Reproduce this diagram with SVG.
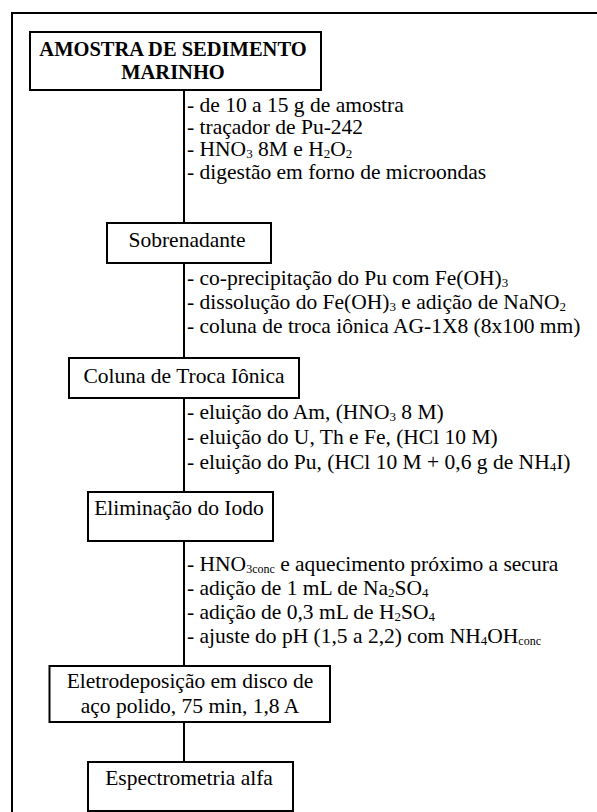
<svg xmlns="http://www.w3.org/2000/svg" width="597" height="812" viewBox="0 0 597 812">
<style>
  .frame { stroke: #000; stroke-width: 2; fill: none; }
  .box { fill: #fff; stroke: #000; stroke-width: 2; }
  .conn { stroke: #000; stroke-width: 2; fill: none; }
  text { font-family: "Liberation Serif", "Times New Roman", serif; font-size: 21.5px; fill: #000; }
  .title { font-weight: bold; font-size: 20.5px; }
  .mid { text-anchor: middle; }
  .sub { font-size: 13px; }
  .subs { font-size: 12px; }
</style>
<rect x="0" y="0" width="597" height="812" fill="#fff"/>
<g id="frame">
  <line class="frame" x1="11" y1="13" x2="597" y2="13"/>
  <line class="frame" x1="12" y1="12" x2="12" y2="812"/>
</g>
<g id="connectors">
  <line class="conn" x1="184" y1="90" x2="184" y2="223"/>
  <line class="conn" x1="184" y1="263" x2="184" y2="358"/>
  <line class="conn" x1="184" y1="398" x2="184" y2="492"/>
  <line class="conn" x1="184" y1="541" x2="184" y2="666"/>
  <line class="conn" x1="184" y1="722" x2="184" y2="762"/>
</g>
<g id="annotations">
  <text x="187" y="112">- de 10 a 15 g de amostra</text>
  <text x="187" y="134">- traçador de Pu-242</text>
  <text x="187" y="156">- HNO<tspan class="sub" dy="2">3</tspan><tspan dy="-2"> 8M e H</tspan><tspan class="sub" dy="2">2</tspan><tspan dy="-2">O</tspan><tspan class="sub" dy="2">2</tspan></text>
  <text x="187" y="179">- digestão em forno de microondas</text>

  <text x="187" y="285">- co-precipitação do Pu com Fe(OH)<tspan class="sub" dy="2">3</tspan></text>
  <text x="187" y="309">- dissolução do Fe(OH)<tspan class="sub" dy="2">3</tspan><tspan dy="-2"> e adição de NaNO</tspan><tspan class="sub" dy="2">2</tspan></text>
  <text x="187" y="333">- coluna de troca iônica AG-1X8 (8x100 mm)</text>

  <text x="187" y="419">- eluição do Am, (HNO<tspan class="sub" dy="2">3</tspan><tspan dy="-2"> 8 M)</tspan></text>
  <text x="187" y="444">- eluição do U, Th e Fe, (HCl 10 M)</text>
  <text x="187" y="469">- eluição do Pu, (HCl 10 M + 0,6 g de NH<tspan class="sub" dy="2">4</tspan><tspan dy="-2">I)</tspan></text>

  <text x="187" y="571">- HNO<tspan class="subs" dy="2">3conc</tspan><tspan dy="-2"> e aquecimento próximo a secura</tspan></text>
  <text x="187" y="595">- adição de 1 mL de Na<tspan class="sub" dy="2">2</tspan><tspan dy="-2">SO</tspan><tspan class="sub" dy="2">4</tspan></text>
  <text x="187" y="619">- adição de 0,3 mL de H<tspan class="sub" dy="2">2</tspan><tspan dy="-2">SO</tspan><tspan class="sub" dy="2">4</tspan></text>
  <text x="187" y="643">- ajuste do pH (1,5 a 2,2) com NH<tspan class="sub" dy="2">4</tspan><tspan dy="-2">OH</tspan><tspan class="subs" dy="2">conc</tspan></text>
</g>
<g id="n1">
  <rect class="box" x="30" y="32" width="291" height="58"/>
  <text class="title mid" x="173" y="56">AMOSTRA DE SEDIMENTO</text>
  <text class="title mid" x="173" y="79">MARINHO</text>
</g>
<g id="n2">
  <rect class="box" x="107" y="223" width="164" height="40"/>
  <text class="mid" x="187" y="247">Sobrenadante</text>
</g>
<g id="n3">
  <rect class="box" x="69" y="358" width="230" height="40"/>
  <text class="mid" x="184" y="383">Coluna de Troca Iônica</text>
</g>
<g id="n4">
  <rect class="box" x="88" y="492" width="185" height="49"/>
  <text class="mid" x="179" y="515">Eliminação do Iodo</text>
</g>
<g id="n5">
  <rect class="box" x="49.5" y="666" width="280.5" height="56"/>
  <text class="mid" x="190" y="688">Eletrodeposição em disco de</text>
  <text class="mid" x="190" y="713">aço polido, 75 min, 1,8 A</text>
</g>
<g id="n6">
  <rect class="box" x="88" y="762" width="205" height="49"/>
  <text class="mid" x="189" y="785">Espectrometria alfa</text>
</g>
</svg>
